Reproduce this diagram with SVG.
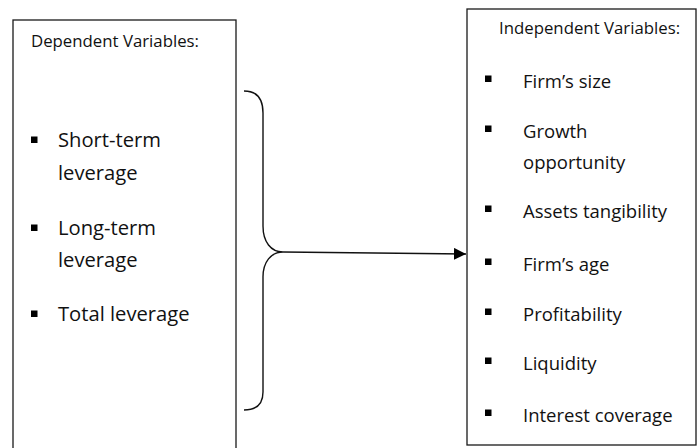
<svg xmlns="http://www.w3.org/2000/svg" width="697" height="448" viewBox="0 0 697 448">
<defs>
<style>
.box{fill:#fff;stroke:#1a1a1a;stroke-width:1.3}
.hdr{font-family:"Open Sans","Liberation Sans",sans-serif;font-size:16.8px;fill:#111}
.l{font-family:"Open Sans","Liberation Sans",sans-serif;font-size:20.2px;fill:#111}
.r{font-family:"Open Sans","Liberation Sans",sans-serif;font-size:18.5px;fill:#111}
.b{fill:#000}
.con{fill:none;stroke:#111;stroke-width:1.4}
</style>
<marker id="arr" markerUnits="userSpaceOnUse" markerWidth="13" markerHeight="13" refX="12" refY="6" orient="auto">
<path d="M0,0 L12,6 L0,12 Z" fill="#000"/>
</marker>
</defs>
<rect width="697" height="448" fill="#fff"/>
<g id="dependent">
<rect class="box" x="13" y="20" width="223" height="450"/>
<text class="hdr" x="31" y="47">Dependent Variables:</text>
<rect class="b" x="31" y="136.5" width="6.5" height="6.5"/>
<text class="l" x="58" y="147">Short-term</text>
<text class="l" x="58" y="180">leverage</text>
<rect class="b" x="31" y="224.5" width="6.5" height="6.5"/>
<text class="l" x="58" y="235">Long-term</text>
<text class="l" x="58" y="267">leverage</text>
<rect class="b" x="31" y="310.5" width="6.5" height="6.5"/>
<text class="l" x="58" y="321">Total leverage</text>
</g>
<g id="independent">
<rect class="box" x="467" y="9" width="229" height="436"/>
<text class="hdr" x="499" y="34">Independent Variables:</text>
<rect class="b" x="485" y="75.5" width="6.5" height="6.5"/>
<text class="r" x="523" y="88">Firm’s size</text>
<rect class="b" x="485" y="125.5" width="6.5" height="6.5"/>
<text class="r" x="523" y="138">Growth</text>
<text class="r" x="523" y="169">opportunity</text>
<rect class="b" x="485" y="205.5" width="6.5" height="6.5"/>
<text class="r" x="523" y="218">Assets tangibility</text>
<rect class="b" x="485" y="258.5" width="6.5" height="6.5"/>
<text class="r" x="523" y="271">Firm’s age</text>
<rect class="b" x="485" y="308.5" width="6.5" height="6.5"/>
<text class="r" x="523" y="321">Profitability</text>
<rect class="b" x="485" y="357.5" width="6.5" height="6.5"/>
<text class="r" x="523" y="370">Liquidity</text>
<rect class="b" x="485" y="409.5" width="6.5" height="6.5"/>
<text class="r" x="523" y="422">Interest coverage</text>
</g>
<g id="connectors">
<path class="con" d="M244,91 C256,91 263,98 263,113 V226 C263,242 271,252 283,252 C271,252 263,262 263,277 V392 C263,404 256,410 244,410"/>
<path class="con" d="M283,252 L466,254" marker-end="url(#arr)"/>
</g>
</svg>
